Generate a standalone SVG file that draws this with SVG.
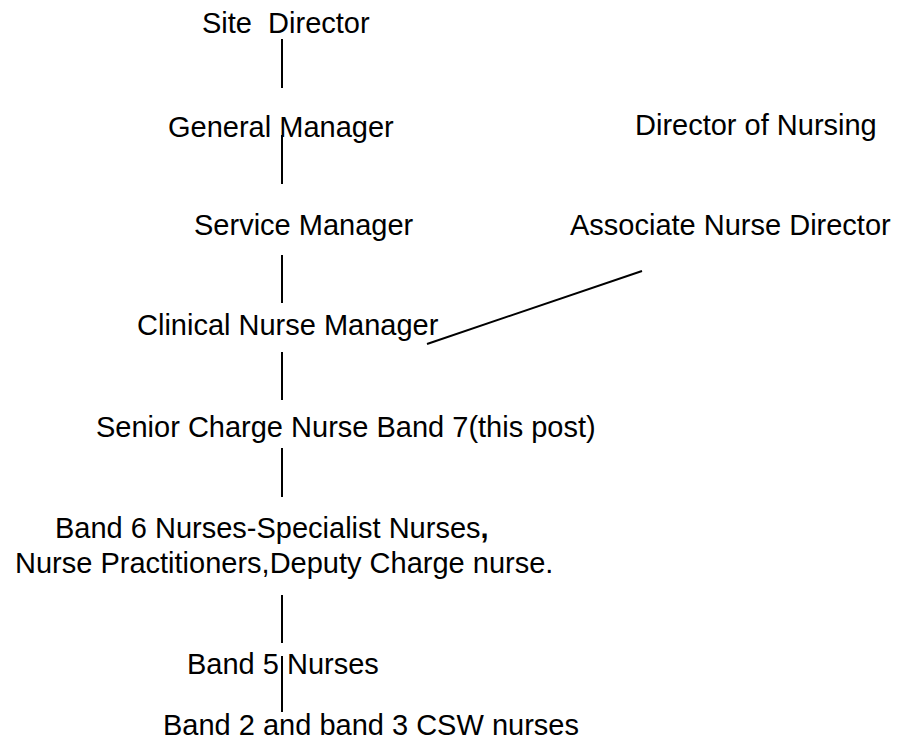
<svg xmlns="http://www.w3.org/2000/svg" width="898" height="747" viewBox="0 0 898 747">
<style>
  text { font-family: "Liberation Sans", Arial, sans-serif; font-size: 29px; fill: #000; white-space: pre; }
  .c { stroke: #000; stroke-width: 2; fill: none; }
</style>
<rect width="898" height="747" fill="#fff"/>
<g id="connectors">
  <line class="c" x1="282" y1="39" x2="282" y2="88"/>
  <line class="c" x1="282" y1="135" x2="282" y2="184"/>
  <line class="c" x1="282" y1="255" x2="282" y2="303"/>
  <line class="c" x1="282" y1="352" x2="282" y2="400"/>
  <line class="c" x1="282" y1="448" x2="282" y2="497"/>
  <line class="c" x1="282" y1="595" x2="282" y2="643"/>
  <line class="c" x1="282" y1="656" x2="282" y2="712"/>
  <line class="c" x1="427" y1="344" x2="642" y2="271"/>
</g>
<g id="site-director"><text x="202" y="33" xml:space="preserve">Site  Director</text></g>
<g id="general-manager"><text x="168" y="137">General Manager</text></g>
<g id="director-of-nursing"><text x="635" y="135">Director of Nursing</text></g>
<g id="service-manager"><text x="194" y="235">Service Manager</text></g>
<g id="associate-nurse-director"><text x="570" y="235">Associate Nurse Director</text></g>
<g id="clinical-nurse-manager"><text x="137" y="335">Clinical Nurse Manager</text></g>
<g id="senior-charge-nurse"><text x="96" y="437">Senior Charge Nurse Band 7(this post)</text></g>
<g id="band6"><text x="55" y="538">Band 6 Nurses-Specialist Nurses<tspan font-weight="bold">,</tspan></text><text x="15" y="573">Nurse Practitioners,Deputy Charge nurse.</text></g>
<g id="band5"><text x="187" y="674">Band 5 Nurses</text></g>
<g id="band2-3"><text x="163" y="735">Band 2 and band 3 CSW nurses</text></g>
</svg>
